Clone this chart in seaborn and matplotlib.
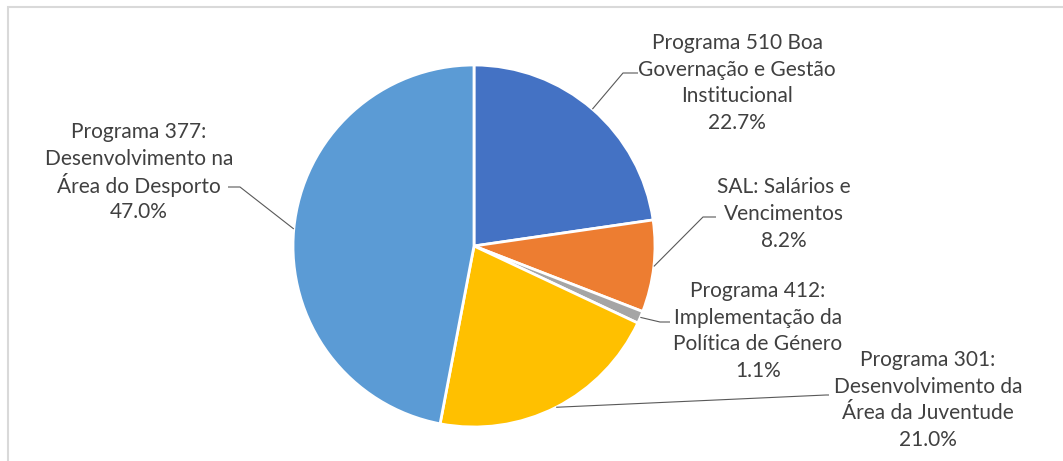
import matplotlib
matplotlib.use("Agg")
import matplotlib.pyplot as plt
import numpy as np
import seaborn as sns

sns.set_theme(style="white")
plt.rcParams['font.family'] = ['Lato', 'DejaVu Sans']

# Budget share by programme
labels = [
    ["Programa 510 Boa", "Governação e Gestão", "Institucional"],
    ["SAL: Salários e", "Vencimentos"],
    ["Programa 412:", "Implementação da", "Política de Género"],
    ["Programa 301:", "Desenvolvimento da", "Área da Juventude"],
    ["Programa 377:", "Desenvolvimento na", "Área do Desporto"],
]
shares = [22.7, 8.2, 1.1, 21.0, 47.0]
colors = ["#4472C4", "#ED7D31", "#A5A5A5", "#FFC000", "#5B9BD5"]

# Layout in pixel units (y measured from the bottom)
W, H = 1063, 461
center = (474, H - 246)
radius = 181
line_step = 26.8
# label block centres and leader-line elbow / end points
label_xy = [(737, H - 81), (784, H - 212), (758, H - 329), (928, H - 398), (139, H - 170)]
elbows = [((623, H - 73), (638, H - 73)),
          ((703, H - 217), (716, H - 217)),
          ((660, H - 322), (670, H - 322)),
          ((826, H - 395), (829, H - 395)),
          ((240, H - 187), (228, H - 187))]

fig = plt.figure(figsize=(W / 100, H / 100), dpi=100)
ax = fig.add_axes([0, 0, 1, 1])

wedges, _ = ax.pie(shares, colors=colors, startangle=90, counterclock=False,
                   center=center, radius=radius,
                   wedgeprops=dict(edgecolor="white", linewidth=2))
ax.set_xlim(0, W)
ax.set_ylim(0, H)
ax.set_aspect("equal")
ax.axis("off")

text_color = "#404040"
line_color = "#595959"
for w, lab, val, (tx, ty), (elb, end) in zip(wedges, labels, shares, label_xy, elbows):
    mid = np.deg2rad((w.theta1 + w.theta2) / 2)
    sx = center[0] + radius * np.cos(mid)
    sy = center[1] + radius * np.sin(mid)
    ax.plot([sx, elb[0], end[0]], [sy, elb[1], end[1]], color=line_color, lw=0.8,
            solid_capstyle="butt")
    rows = lab + [f"{val:.1f}%"]
    n = len(rows)
    for i, row in enumerate(rows):
        y = ty + ((n - 1) / 2 - i) * line_step
        ax.text(tx, y, row, ha="center", va="center_baseline", fontsize=15,
                color=text_color)

# chart area border
ax.add_patch(plt.Rectangle((7.5, -20), W + 20, H - 7.5 + 20, fill=False,
                           edgecolor="#D9D9D9", lw=1.5, clip_on=False))

fig.savefig("out.png", dpi=100, facecolor="white")
